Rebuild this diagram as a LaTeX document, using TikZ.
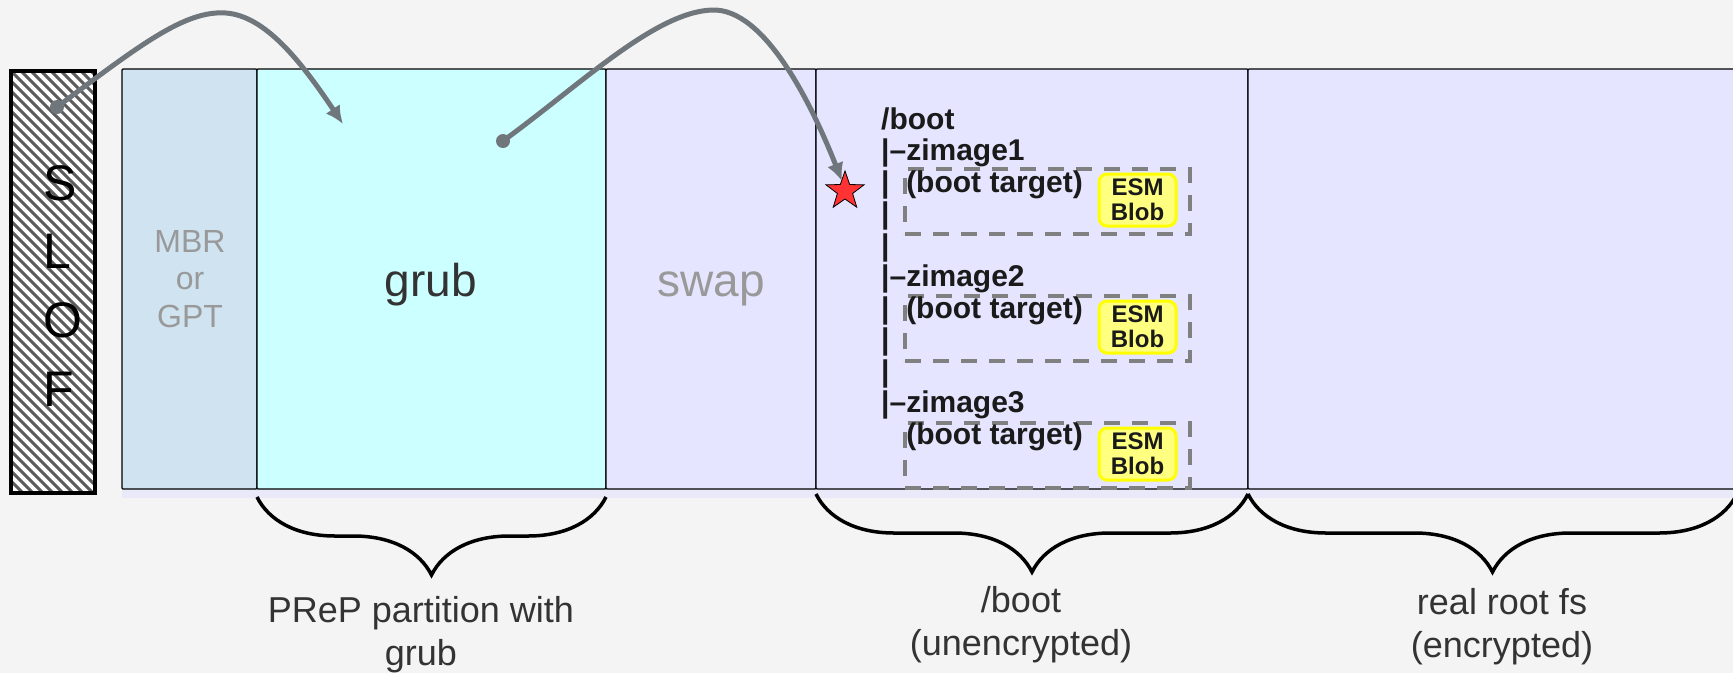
\documentclass[tikz,border=0pt]{standalone}
\usepackage{fontspec}
\setmainfont{Liberation Sans}
\usepackage{tikz}
\usetikzlibrary{arrows.meta,shapes.geometric,decorations.pathreplacing}

\definecolor{bggray}{HTML}{F4F4F4}
\definecolor{mbrblue}{HTML}{CFE3F1}
\definecolor{grubcyan}{HTML}{CCFFFF}
\definecolor{lavender}{HTML}{E5E5FF}
\definecolor{shadowlav}{HTML}{E9E9FA}
\definecolor{arrowgray}{HTML}{6F767C}
\definecolor{dashgray}{HTML}{808080}
\definecolor{hatchgray}{HTML}{5C5C5C}
\definecolor{softgray}{HTML}{999999}
\definecolor{darktext}{HTML}{333333}
\definecolor{treetext}{HTML}{1A1A1A}
\definecolor{esmfill}{HTML}{FFFF80}
\definecolor{esmline}{HTML}{FFFF00}
\definecolor{starred}{HTML}{FF3333}

\tikzset{
  part/.style={draw=black, line width=1.2pt, rounded corners=1pt, inner sep=0, outer sep=0,
    minimum height=420, anchor=north west},
  parttext/.style={inner sep=0, font=\fontsize{46}{52}\selectfont},
  bracetext/.style={inner sep=0, align=center, text=darktext, font=\fontsize{36}{43}\selectfont},
  tree/.style={inner sep=0, anchor=base west, text=treetext, font=\fontsize{30}{31.5}\selectfont\bfseries},
  tgtbox/.style={draw=dashgray, line width=4pt, dash pattern=on 16pt off 12pt, inner sep=0,
    minimum width=285, minimum height=65, anchor=north west},
  esm/.style={draw=esmline, fill=esmfill, line width=3pt, rounded corners=8pt, inner sep=0,
    minimum width=77, minimum height=52, align=center, text=treetext, font=\fontsize{24}{25}\selectfont\bfseries},
  curly/.style={decorate, decoration={brace, amplitude=78pt}, line width=3.5pt},
  dot/.style={circle, fill=arrowgray, inner sep=0, minimum size=14},
  link/.style={draw=arrowgray, line width=5pt, -{Latex[length=18pt,width=17pt]}},
  hatch/.style={draw=hatchgray, line width=3pt}
}

\begin{document}
\begin{tikzpicture}[x=1pt,y=-1pt]

\useasboundingbox (0,0) rectangle (1733,673);
\fill[bggray] (0,0) rectangle (1733,673);

%the SLOF firmware
    \node[fill=white, inner sep=0, minimum width=84, minimum height=422] (slof) at (53,282) {};
    \begin{scope}
    \clip (slof.south west) rectangle (slof.north east);
    \foreach \c in {-490,-480,...,30}
        \draw[hatch] (\c+60,60) -- (\c+510,510);
    \end{scope}
    \draw[line width=4pt] (slof.south west) rectangle (slof.north east);
    \node[anchor=north west, align=left, inner sep=0, font=\fontsize{50}{68.7}\selectfont] (sloftxt) at (43,165) {S\\L\\O\\F};

%the disk
    \fill[shadowlav] (122,485) rectangle (1733,498);
    \node[part, fill=mbrblue, minimum width=135] (mbr) at (122,69) {};
    \node[part, fill=grubcyan, minimum width=349] (grub) at (257,69) {};
    \node[part, fill=lavender, minimum width=210] (swap) at (606,69) {};
    \node[part, fill=lavender, minimum width=432] (boot) at (816,69) {};
    \node[part, fill=lavender, minimum width=520] (root) at (1248,69) {};

    \node[anchor=north, align=center, inner sep=0, text=softgray, font=\fontsize{32}{37.5}\selectfont] (mbrtxt) at (190,230) {MBR\\or\\GPT};
    \node[parttext, anchor=base, text=darktext] (grubtxt) at (431,296) {grub};
    \node[parttext, anchor=base, text=softgray] (swaptxt) at (711,296) {swap};

%the /boot tree
\foreach \i in {1,2,3} {
    \node[tgtbox] (tgt\i) at (903,{167+127*(\i-1)}) {};
    \node[esm] (esm\i) at (1137.5,{200+127*(\i-1)}) {ESM\\Blob};
}
\foreach \t [count=\n] in {/boot, |–zimage1, {|\ \ (boot target)}, |, |, |–zimage2, {|\ \ (boot target)}, |, |, |–zimage3, {\hphantom{|}\ \ (boot target)}}
    \node[tree] (t\n) at (881,{129+31.5*(\n-1)}) {\t};

    \node[star, star points=5, star point ratio=2.5, fill=starred, draw=black, line width=0.8pt, inner sep=0, minimum size=40] (star) at (845,191) {};

%the arrows
    \node[dot] (slofdot) at (57,107) {};
    \node[dot] (grubdot) at (503,141) {};
    \coordinate (grubin) at (343,124);
    \coordinate (bootin) at (842,181);
    \draw[link] (slofdot.center) .. controls (140,45) and (185,10) .. (226,13) .. controls (265,16) and (300,60) .. (grubin);
    \draw[link] (grubdot.center) .. controls (580,85) and (655,12) .. (712,10) .. controls (765,8) and (812,105) .. (bootin);

%the braces
    \draw[curly] (606,497) -- (257,497);
    \draw[curly] (1248,494) -- (816,494);
    \draw[curly] (1737,494) -- (1248,494);
    \node[bracetext, anchor=north] (preptxt) at (421,596) {PReP partition with\\grub};
    \node[bracetext, anchor=north] (boottxt) at (1021,586) {/boot\\(unencrypted)};
    \node[bracetext, anchor=north] (roottxt) at (1502,588) {real root fs\\(encrypted)};
\end{tikzpicture}
\end{document}
